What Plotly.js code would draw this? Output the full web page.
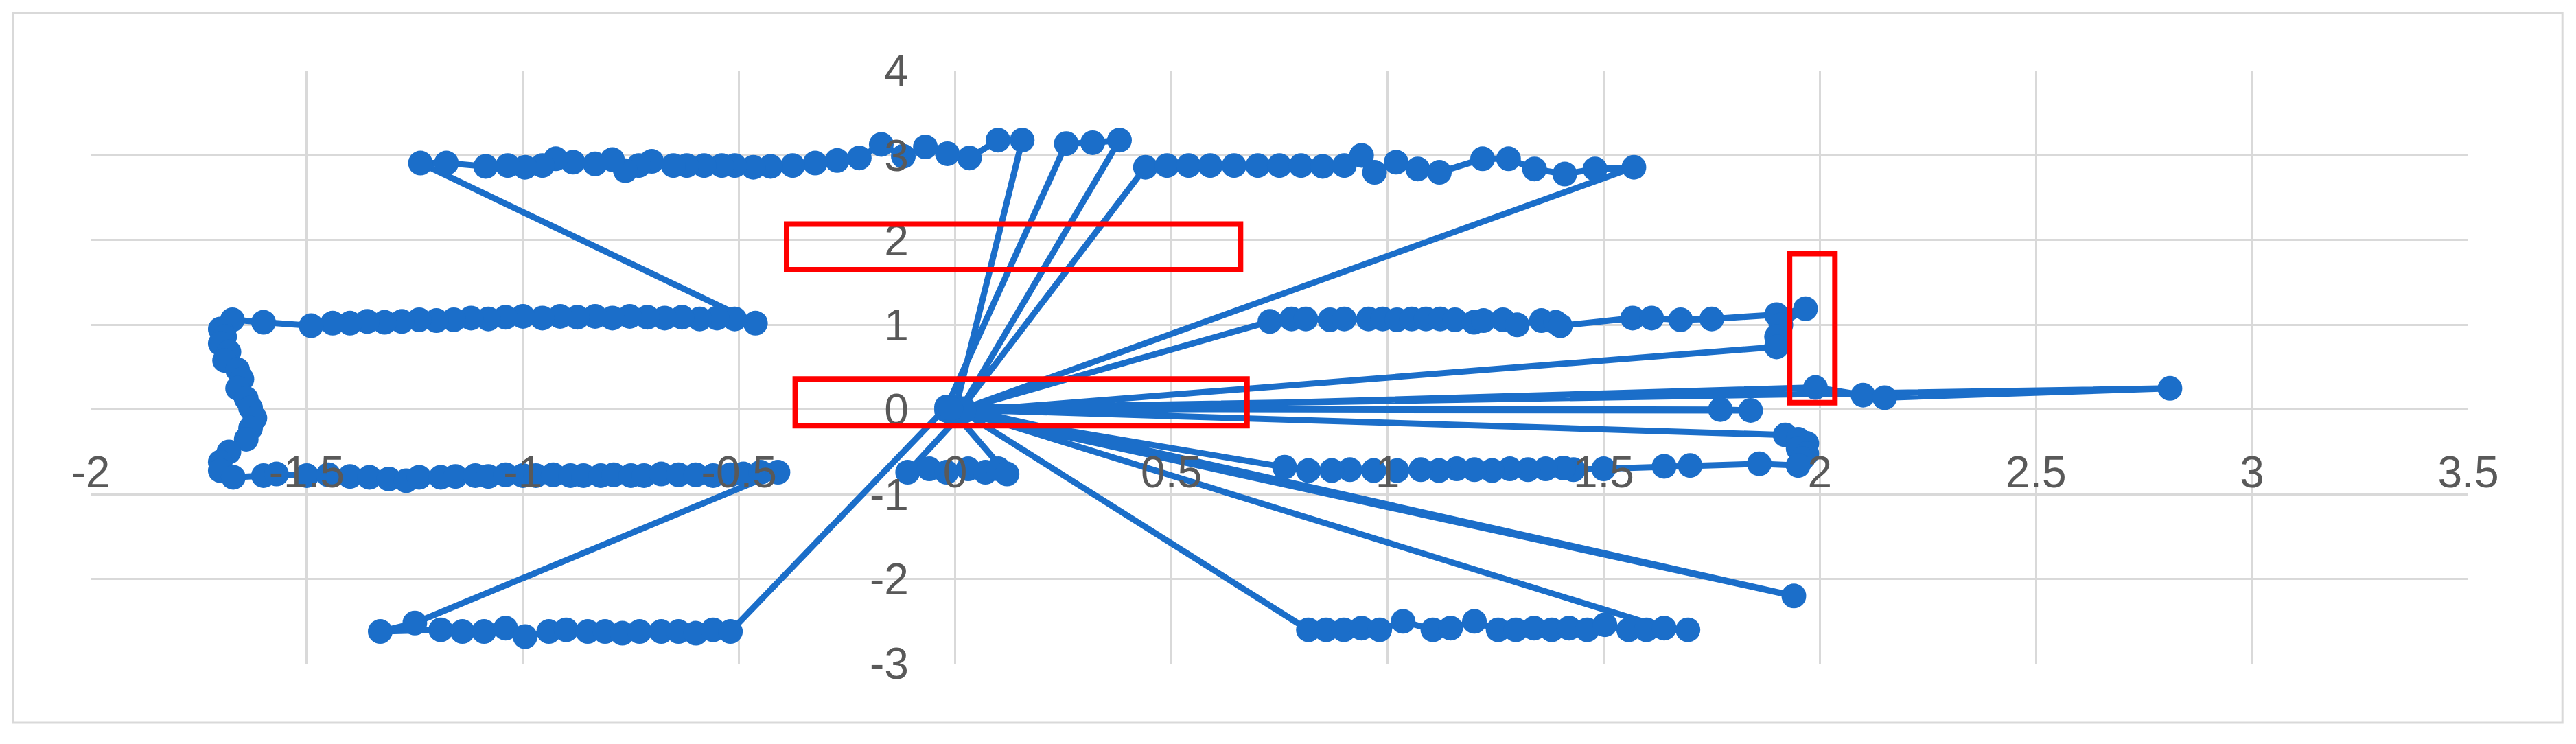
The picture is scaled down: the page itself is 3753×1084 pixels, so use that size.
<!DOCTYPE html>
<html>
<head>
<meta charset="utf-8">
<script src="https://cdn.plot.ly/plotly-3.0.1.min.js"></script>
<style>
  html, body { margin: 0; padding: 0; background: #ffffff; }
  #chart { width: 3753px; height: 1084px; }
</style>
</head>
<body>
<div id="chart"></div>
<script>
// tick labels (hyphen minus, as in the original)
var xTickVals = [-2, -1.5, -1, -0.5, 0, 0.5, 1, 1.5, 2, 2.5, 3, 3.5];
var xTickText = ['-2', '-1.5', '-1', '-0.5', '0', '0.5', '1', '1.5', '2', '2.5', '3', '3.5'];
var yTickVals = [-3, -2, -1, 0, 1, 2, 3, 4];
var yTickText = ['-3', '-2', '-1', '0', '1', '2', '3', '4'];

// hub points the path returns to between sweeps
var hubX = [0, -0.02, 0.01, 0.02, -0.01, 0, 0.01, -0.02, 0, 0.02, -0.01, 0];
var hubY = [0, 0.03, -0.02, 0.01, -0.03, 0.02, 0, -0.01, 0.03, -0.02, 0.01, 0];

// left side: top row (right to left), y~1 row, side column, bottom row, lowest row
var upperLeftX = [0.155, 0.099, 0.033, -0.018, -0.069, -0.12, -0.171, -0.222, -0.273, -0.324, -0.376, -0.427, -0.467, -0.51, -0.54, -0.581, -0.621, -0.652, -0.702, -0.732, -0.763, -0.793, -0.833, -0.884, -0.924, -0.955, -0.995, -1.035, -1.086, -1.177, -1.237];
var upperLeftY = [3.18, 3.18, 2.97, 3.02, 3.10, 2.99, 3.13, 2.97, 2.94, 2.91, 2.88, 2.87, 2.86, 2.88, 2.88, 2.88, 2.88, 2.88, 2.93, 2.88, 2.82, 2.95, 2.90, 2.92, 2.96, 2.88, 2.86, 2.88, 2.87, 2.91, 2.91];

var leftTopX = [-0.462, -0.51, -0.551, -0.591, -0.632, -0.672, -0.712, -0.753, -0.793, -0.833, -0.874, -0.914, -0.955, -1.0, -1.04, -1.08, -1.12, -1.16, -1.20, -1.24, -1.28, -1.32, -1.36, -1.40, -1.44, -1.49, -1.60, -1.672];
var leftTopY = [1.02, 1.07, 1.08, 1.07, 1.09, 1.08, 1.09, 1.10, 1.08, 1.10, 1.09, 1.10, 1.08, 1.10, 1.09, 1.07, 1.08, 1.06, 1.05, 1.06, 1.04, 1.03, 1.04, 1.02, 1.02, 0.99, 1.03, 1.06];

var leftSideX = [-1.70, -1.69, -1.70, -1.68, -1.69, -1.66, -1.65, -1.66, -1.64, -1.63, -1.62, -1.63, -1.64, -1.68, -1.70, -1.70];
var leftSideY = [0.95, 0.86, 0.78, 0.68, 0.58, 0.47, 0.36, 0.25, 0.13, 0.02, -0.10, -0.22, -0.35, -0.50, -0.62, -0.72];

var leftBottomX = [-1.67, -1.60, -1.57, -1.50, -1.45, -1.40, -1.355, -1.31, -1.27, -1.24, -1.19, -1.156, -1.11, -1.08, -1.04, -1.00, -0.97, -0.93, -0.89, -0.86, -0.82, -0.79, -0.75, -0.72, -0.68, -0.64, -0.60, -0.56, -0.52, -0.49, -0.45, -0.41];
var leftBottomY = [-0.80, -0.78, -0.76, -0.78, -0.77, -0.79, -0.80, -0.82, -0.84, -0.80, -0.80, -0.79, -0.78, -0.79, -0.77, -0.78, -0.78, -0.77, -0.78, -0.78, -0.78, -0.77, -0.78, -0.78, -0.76, -0.77, -0.77, -0.78, -0.77, -0.76, -0.74, -0.74];

var lowerLeftX = [-1.25, -1.33, -1.19, -1.14, -1.09, -1.04, -0.995, -0.94, -0.90, -0.85, -0.81, -0.77, -0.73, -0.68, -0.64, -0.60, -0.56, -0.52];
var lowerLeftY = [-2.52, -2.62, -2.60, -2.62, -2.62, -2.58, -2.68, -2.62, -2.60, -2.62, -2.62, -2.64, -2.62, -2.62, -2.62, -2.64, -2.60, -2.62];

// right side
var midTopX = [0.257, 0.318, 0.38];
var midTopY = [3.14, 3.15, 3.18];

var upperRightX = [0.44, 0.49, 0.54, 0.59, 0.645, 0.70, 0.75, 0.80, 0.85, 0.90, 0.94, 0.97, 1.02, 1.07, 1.12, 1.22, 1.28, 1.34, 1.41, 1.48, 1.57];
var upperRightY = [2.86, 2.88, 2.88, 2.88, 2.88, 2.88, 2.88, 2.88, 2.87, 2.88, 3.00, 2.80, 2.92, 2.84, 2.80, 2.96, 2.96, 2.84, 2.78, 2.84, 2.86];

var rightTopX = [0.728, 0.778, 0.811, 0.867, 0.90, 0.956, 0.989, 1.022, 1.056, 1.089, 1.122, 1.156, 1.20, 1.222, 1.267, 1.30, 1.356, 1.389, 1.40, 1.567, 1.611, 1.678, 1.75, 1.90, 1.967, 1.91, 1.90, 1.90];
var rightTopY = [1.04, 1.07, 1.07, 1.06, 1.07, 1.07, 1.07, 1.06, 1.07, 1.07, 1.07, 1.06, 1.03, 1.05, 1.06, 1.00, 1.05, 1.03, 0.99, 1.08, 1.08, 1.06, 1.07, 1.12, 1.19, 1.00, 0.86, 0.74];

var rightAxisX = [1.99, 2.10, 2.15, 2.81];
var rightAxisY = [0.26, 0.17, 0.14, 0.25];

var rightAxisNearX = [1.77, 1.84];
var rightAxisNearY = [0.0, -0.01];

var rightLowX = [1.92, 1.95, 1.97, 1.95, 1.97, 1.96, 1.95, 1.86, 1.70, 1.64, 1.50, 1.43, 1.407, 1.366, 1.325, 1.283, 1.242, 1.201, 1.160, 1.119, 1.077, 1.022, 0.968, 0.913, 0.871, 0.817, 0.762];
var rightLowY = [-0.30, -0.35, -0.40, -0.46, -0.52, -0.58, -0.66, -0.64, -0.66, -0.67, -0.70, -0.71, -0.69, -0.70, -0.71, -0.70, -0.72, -0.71, -0.70, -0.72, -0.71, -0.72, -0.72, -0.71, -0.72, -0.72, -0.68];

var farLowX = [1.94];
var farLowY = [-2.2];

var lowerRightX = [0.817, 0.858, 0.899, 0.940, 0.982, 1.036, 1.105, 1.146, 1.201, 1.256, 1.297, 1.339, 1.38, 1.42, 1.462, 1.503, 1.558, 1.599, 1.695, 1.64];
var lowerRightY = [-2.60, -2.60, -2.60, -2.58, -2.60, -2.50, -2.60, -2.58, -2.50, -2.60, -2.60, -2.58, -2.60, -2.58, -2.60, -2.54, -2.60, -2.60, -2.60, -2.58];

var nearOriginX = [-0.11, -0.06, -0.02, 0.03, 0.07, 0.10, 0.12];
var nearOriginY = [-0.74, -0.70, -0.74, -0.70, -0.74, -0.70, -0.76];

// highlighted regions (red boxes), in axis units
var boxX0 = [-0.39, -0.37, 1.93];
var boxX1 = [0.66, 0.675, 2.035];
var boxY0 = [1.65, -0.19, 0.08];
var boxY1 = [2.19, 0.36, 1.84];

var sweeps = [
  [upperLeftX.concat(leftTopX, leftSideX, leftBottomX, lowerLeftX),
   upperLeftY.concat(leftTopY, leftSideY, leftBottomY, lowerLeftY)],
  [midTopX, midTopY],
  [upperRightX, upperRightY],
  [rightTopX, rightTopY],
  [rightAxisX, rightAxisY],
  [rightAxisNearX, rightAxisNearY],
  [rightLowX, rightLowY],
  [farLowX, farLowY],
  [lowerRightX, lowerRightY],
  [nearOriginX, nearOriginY]
];

var xs = [], ys = [];
for (var i = 0; i < sweeps.length; i++) {
  xs.push(hubX[i]); ys.push(hubY[i]);
  xs = xs.concat(sweeps[i][0]);
  ys = ys.concat(sweeps[i][1]);
}
xs.push(hubX[sweeps.length]); ys.push(hubY[sweeps.length]);

var blue = '#1b6ec9';
var trace = {
  x: xs, y: ys,
  type: 'scatter',
  mode: 'lines+markers',
  line: {color: blue, width: 9},
  marker: {color: blue, size: 36},
  hoverinfo: 'skip',
  showlegend: false
};

var shapes = [];
for (var k = 0; k < boxX0.length; k++) {
  shapes.push({type: 'rect', xref: 'x', yref: 'y',
    x0: boxX0[k], x1: boxX1[k], y0: boxY0[k], y1: boxY1[k],
    line: {color: '#ff0000', width: 8}, fillcolor: 'rgba(0,0,0,0)'});
}
// chart area frame
shapes.push({type: 'rect', xref: 'paper', yref: 'paper',
  x0: -0.0326, x1: 1.0396, y0: -0.0995, y1: 1.0972,
  line: {color: '#d9d9d9', width: 3}, fillcolor: 'rgba(0,0,0,0)', layer: 'below'});

var tickFont = {family: '"Liberation Sans", Arial, sans-serif', size: 64, color: '#595959'};

var layout = {
  width: 3753, height: 1084,
  margin: {l: 132, r: 157, t: 103, b: 117},
  paper_bgcolor: '#ffffff', plot_bgcolor: '#ffffff',
  xaxis: {
    range: [-2, 3.5],
    tickmode: 'array', tickvals: xTickVals, ticktext: xTickText,
    anchor: 'free', position: 3 / 7,
    showgrid: true, gridcolor: '#d9d9d9', gridwidth: 3,
    zeroline: true, zerolinecolor: '#d9d9d9', zerolinewidth: 3,
    showline: false,
    ticks: 'outside', ticklen: 35, tickcolor: 'rgba(0,0,0,0)',
    tickfont: tickFont, fixedrange: true
  },
  yaxis: {
    range: [-3, 4],
    tickmode: 'array', tickvals: yTickVals, ticktext: yTickText,
    anchor: 'free', position: 2 / 5.5,
    showgrid: true, gridcolor: '#d9d9d9', gridwidth: 3,
    zeroline: true, zerolinecolor: '#d9d9d9', zerolinewidth: 3,
    showline: false,
    ticks: 'outside', ticklen: 55, tickcolor: 'rgba(0,0,0,0)',
    tickfont: tickFont, fixedrange: true
  },
  shapes: shapes,
  showlegend: false
};

Plotly.newPlot('chart', [trace], layout, {displayModeBar: false, staticPlot: true});
</script>
</body>
</html>
